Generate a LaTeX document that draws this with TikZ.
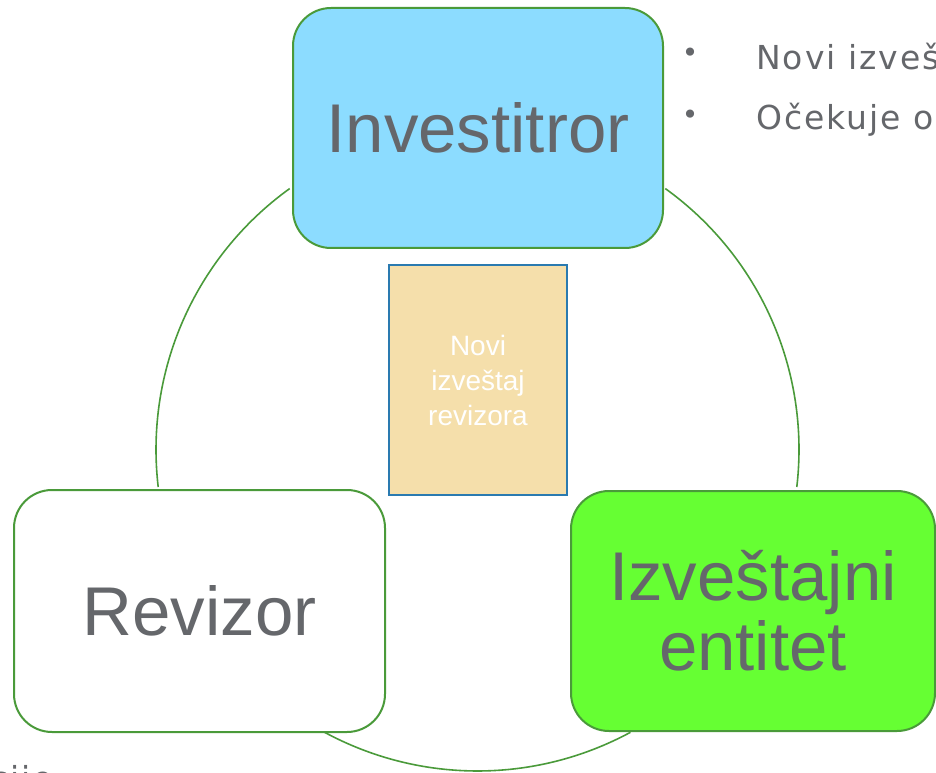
\documentclass[tikz,border=0pt]{standalone}
\usepackage{fontspec}
\setmainfont{Liberation Sans}
\newfontfamily\bulletfont[LetterSpace=6]{DejaVu Sans}
\newfontfamily\dotfont{DejaVu Sans}
\definecolor{ringgreen}{HTML}{4A9A3A}
\definecolor{txtgray}{HTML}{65676B}
\definecolor{skyfill}{HTML}{8CDCFF}
\definecolor{limefill}{HTML}{66FF33}
\definecolor{sandfill}{HTML}{F5DFAB}
\definecolor{boxblue}{HTML}{2A7AB0}
\begin{document}
\begin{tikzpicture}[x=1pt,y=1pt,
  ring/.style={draw=ringgreen,line width=1.6pt},
  rolebox/.style={draw=ringgreen,line width=2pt,rounded corners=38pt,inner sep=0pt,
    align=center,text=txtgray,font=\fontsize{69}{70}\selectfont},
  reportbox/.style={draw=boxblue,line width=2pt,fill=sandfill,inner sep=0pt,
    minimum width=178pt,minimum height=230pt,align=center,text=white,
    font=\fontsize{28}{35}\selectfont},
  bullettxt/.style={text=txtgray,inner sep=0pt,font=\bulletfont\fontsize{33}{33}\selectfont},
  bulletdot/.style={text=txtgray,inner sep=0pt,font=\dotfont\fontsize{28}{28}\selectfont}]
\useasboundingbox (0,0) rectangle (936,772);
\clip (0,0) rectangle (936,772);
\coordinate (ctr) at (477.5,322.5);
% ring arcs
\draw[ring] (ctr) ++(125.75:321.5) arc[start angle=125.75,end angle=186.7,radius=321.5];
\draw[ring] (ctr) ++(241.6:321.5) arc[start angle=241.6,end angle=298.4,radius=321.5];
\draw[ring] (ctr) ++(-6.7:321.5) arc[start angle=-6.7,end angle=54.25,radius=321.5];
% boxes
\node[rolebox,fill=skyfill,minimum width=370pt,minimum height=240pt] (inv) at (478,644) {Investitror};
\node[rolebox,fill=white,minimum width=371pt,minimum height=242pt] (rev) at (199.5,161) {Revizor};
\node[rolebox,fill=limefill,minimum width=364pt,minimum height=240pt] (ent) at (753,161) {Izveštajni\\entitet};
\node[reportbox] (rep) at (478,392) {Novi\\izveštaj\\revizora};
% bullets
\node[bulletdot] (b1) at (690,717) {•};
\node[bulletdot] (b2) at (690,655) {•};
\node[bullettxt,anchor=base west] (t1) at (756,702) {Novi izveš};
\node[bullettxt,anchor=base west] (t2) at (756,642) {Očekuje o};
% cut-off text bottom left
\node[bullettxt,anchor=base west] (t3) at (-10,-18) {cije};
\end{tikzpicture}
\end{document}
